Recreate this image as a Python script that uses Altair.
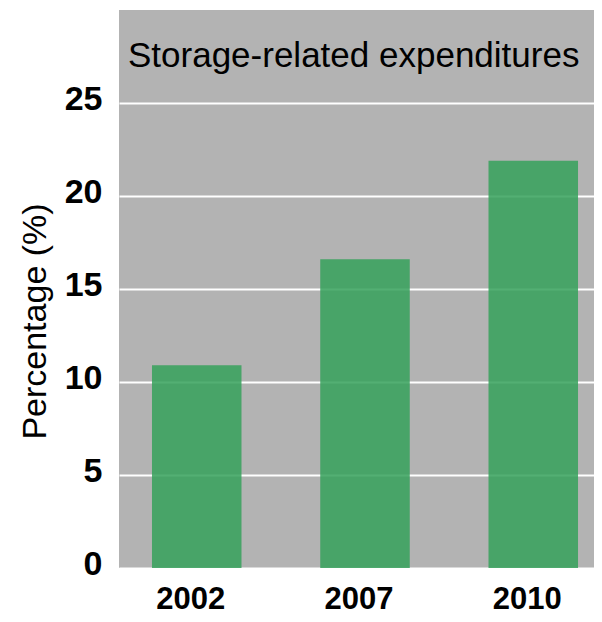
import altair as alt
import pandas as pd

years = ["2002", "2007", "2010"]
values = [10.9, 16.6, 21.9]
y_ticks = [0, 5, 10, 15, 20, 25]
caption = "Storage-related expenditures"

df = pd.DataFrame({"year": years, "pct": values})
FONT = "Liberation Sans, Arial, sans-serif"

bars = alt.Chart(df).mark_bar(color="#35A15B", opacity=0.85).encode(
    x=alt.X(
        "year:N",
        sort=years,
        scale=alt.Scale(paddingInner=0.468, paddingOuter=0.196, range=[0, 492]),
        axis=alt.Axis(
            title=None, labelAngle=0, ticks=False, domain=False, grid=False,
            labelFont=FONT, labelFontSize=31, labelFontWeight="bold",
            labelColor="#000000", labelPadding=16, labelOffset=-6,
        ),
    ),
    y=alt.Y(
        "pct:Q",
        scale=alt.Scale(domain=[0, 30], nice=False),
        axis=alt.Axis(
            title="Percentage (%)", values=y_ticks, ticks=False, domain=False,
            grid=True, gridColor="#FFFFFF", gridWidth=2, gridOpacity=1,
            labelFont=FONT, labelFontSize=34, labelFontWeight="bold",
            labelColor="#000000", labelPadding=17, labelOffset=-4,
            labelBaseline="middle",
            titleFont=FONT, titleFontSize=34, titleFontWeight="normal",
            titleColor="#000000", titleX=-74, titleY=311, titleAngle=-90,
            titleBaseline="alphabetic", titleAlign="center",
        ),
    ),
)

label = alt.Chart(pd.DataFrame({"t": [caption]})).mark_text(
    align="left", baseline="alphabetic", font=FONT, fontSize=35,
    color="#000000",
).encode(text="t:N", x=alt.value(9), y=alt.value(57))

chart = alt.layer(bars, label).properties(
    width=475, height=558,
    autosize=alt.AutoSizeParams(type="none"),
    padding={"left": 111, "top": 2, "right": 0, "bottom": 46},
    background="#FFFFFF",
).configure_view(fill="#B3B3B3", stroke=None)

chart.save("out.html", embed_options={"renderer": "svg", "actions": False})
